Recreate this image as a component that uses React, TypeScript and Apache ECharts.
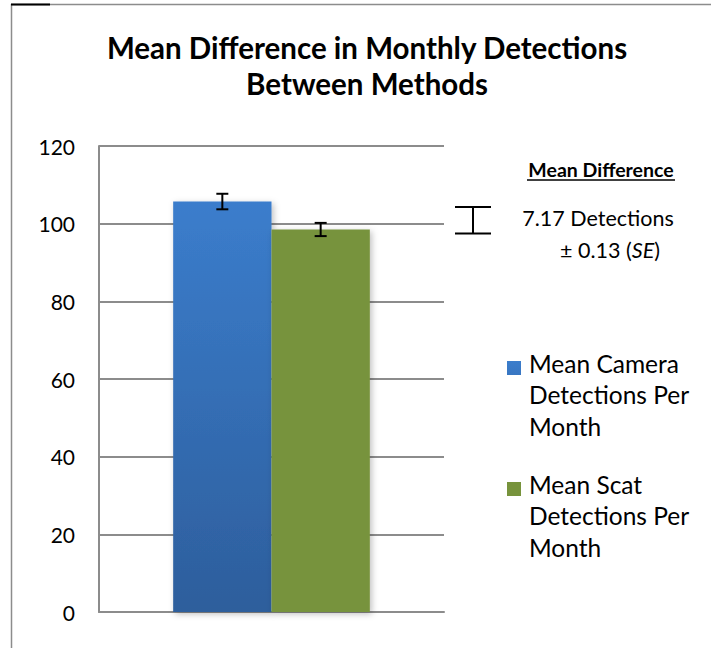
import React, { useEffect, useRef } from "react";
import * as echarts from "echarts";

const categories = ["Monthly Detections"];
const seriesNames = ["Mean Camera\nDetections Per\nMonth", "Mean Scat\nDetections Per\nMonth"];
const meanValues = [105.7, 98.5];
const seValues = [2.0, 1.7];
const yTicks = { min: 0, max: 120, interval: 20 };
const annotationTitle = "Mean Difference";
const annotationLine1 = "7.17 Detections";
const annotationSE = "0.13";
const titleText = "Mean Difference in Monthly Detections\nBetween Methods";

const FONT = "Lato, 'Open Sans', sans-serif";
const GAP = 0.43;
const LEG_LH = 31.5;
const LEG_TEXT_SHIFT = -5;
const LEG_ITEM_H = 2 * (7 + LEG_TEXT_SHIFT + LEG_LH);
const LEG_ICON_CENTER = 368;
const LEG_ICON_STEP = 121;
const LEG_ICON = `path://M0,0H14V14H0Z M16.95,${LEG_ITEM_H - 0.05}L17,${LEG_ITEM_H}L16.95,${LEG_ITEM_H}Z`;
const LEG_RECT_TOP = LEG_ITEM_H / 2 - 1.5 * LEG_LH;

export default function App() {
  const ref = useRef<HTMLDivElement>(null);
  useEffect(() => {
    if (!ref.current) return;
    const chart = echarts.init(ref.current, null, { renderer: "svg" });
    const blue = new echarts.graphic.LinearGradient(0, 0, 0, 1, [
      { offset: 0, color: "#3b7dcc" },
      { offset: 1, color: "#2d5e9c" },
    ]);
    const colors = [blue, "#77933c"];
    const barSeries = seriesNames.map((name, i) => ({
      type: "bar",
      name,
      data: [meanValues[i]],
      barGap: "0%",
      barCategoryGap: GAP * 100 + "%",
      itemStyle: {
        color: colors[i],
        shadowBlur: 6,
        shadowColor: "rgba(0,0,0,0.25)",
        shadowOffsetX: 2,
        shadowOffsetY: 2,
      },
    }));
    const errData = meanValues.map((v, i) => [0, v, seValues[i], i]);
    const option: any = {
      animation: false,
      backgroundColor: "#ffffff",
      textStyle: { fontFamily: FONT },
      title: {
        text: titleText,
        left: 367,
        top: 29,
        textAlign: "center",
        padding: 0,
        textStyle: {
          fontFamily: FONT,
          fontWeight: "bold",
          fontSize: 29.5,
          lineHeight: 36,
          color: "#000",
        },
      },
      grid: { left: 99, right: 267, top: 146, bottom: 36 },
      xAxis: {
        type: "category",
        data: categories,
        axisLine: { show: true, lineStyle: { color: "#8c8c8c", width: 2 } },
        axisTick: { show: false },
        axisLabel: { show: false },
      },
      yAxis: {
        type: "value",
        min: yTicks.min,
        max: yTicks.max,
        interval: yTicks.interval,
        axisLine: { show: true, lineStyle: { color: "#8c8c8c", width: 2 } },
        axisTick: { show: false },
        splitLine: { show: true, lineStyle: { color: "#8c8c8c", width: 2 } },
        axisLabel: { color: "#000", fontSize: 21, margin: 24, fontFamily: FONT },
      },
      legend: {
        data: seriesNames,
        orient: "vertical",
        left: 507,
        top: LEG_ICON_CENTER - 7 + LEG_RECT_TOP,
        padding: 0,
        itemGap: LEG_ICON_STEP - LEG_LH * 3,
        itemWidth: 17,
        itemHeight: LEG_ITEM_H,
        icon: LEG_ICON,
        selectedMode: false,
        textStyle: {
          fontFamily: FONT,
          fontSize: 24.5,
          lineHeight: LEG_LH,
          color: "#000",
        },
      },
      series: [
        ...barSeries,
        {
          type: "custom",
          name: "SE",
          data: errData,
          encode: { x: 0, y: 1 },
          z: 10,
          renderItem: (params: any, api: any) => {
            const cat = api.value(0);
            const v = api.value(1);
            const e = api.value(2);
            const slot = api.value(3);
            const band = api.size([1, 0])[0];
            const barW = (band * (1 - GAP)) / 2;
            const c = api.coord([cat, v]);
            const x = c[0] + (slot - 0.5) * barW;
            const yTop = api.coord([cat, v + e])[1];
            const yBot = api.coord([cat, v - e])[1];
            const hw = 6;
            const style = { stroke: "#000", lineWidth: 2 };
            return {
              type: "group",
              children: [
                { type: "line", shape: { x1: x, y1: yTop, x2: x, y2: yBot }, style },
                { type: "line", shape: { x1: x - hw, y1: yTop, x2: x + hw, y2: yTop }, style },
                { type: "line", shape: { x1: x - hw, y1: yBot, x2: x + hw, y2: yBot }, style },
              ],
            };
          },
        },
      ],
      graphic: [
        { type: "line", shape: { x1: 11.5, y1: 4, x2: 11.5, y2: 648 }, style: { stroke: "#8c8c8c", lineWidth: 1.5 } },
        { type: "line", shape: { x1: 11, y1: 4.5, x2: 711, y2: 4.5 }, style: { stroke: "#8c8c8c", lineWidth: 1.5 } },
        { type: "line", shape: { x1: 11, y1: 4.5, x2: 50, y2: 4.5 }, style: { stroke: "#000", lineWidth: 2 } },
        {
          type: "text",
          x: 601,
          y: 169,
          style: {
            text: annotationTitle,
            fontFamily: FONT,
            fontWeight: "bold",
            fontSize: 19.5,
            fill: "#000",
            align: "center",
            verticalAlign: "middle",
          },
        },
        { type: "line", shape: { x1: 527, y1: 180, x2: 675, y2: 180 }, style: { stroke: "#000", lineWidth: 1.5 } },
        { type: "line", shape: { x1: 455, y1: 207, x2: 491, y2: 207 }, style: { stroke: "#000", lineWidth: 2 } },
        { type: "line", shape: { x1: 455, y1: 233.5, x2: 491, y2: 233.5 }, style: { stroke: "#000", lineWidth: 2 } },
        { type: "line", shape: { x1: 473, y1: 207, x2: 473, y2: 233.5 }, style: { stroke: "#000", lineWidth: 2 } },
        {
          type: "text",
          x: 598,
          y: 218,
          style: {
            text: annotationLine1,
            fontFamily: FONT,
            fontSize: 21.5,
            fill: "#000",
            align: "center",
            verticalAlign: "middle",
          },
        },
        {
          type: "text",
          x: 610,
          y: 250,
          style: {
            text: "± " + annotationSE + " ({i|SE})",
            fontFamily: FONT,
            fontSize: 21.5,
            fill: "#000",
            align: "center",
            verticalAlign: "middle",
            rich: { i: { fontStyle: "italic", fontFamily: FONT, fontSize: 21.5, fill: "#000" } },
          },
        },
      ],
    };
    chart.setOption(option);
    return () => chart.dispose();
  }, []);
  return (
    <div
      ref={ref}
      style={{ position: "fixed", left: 0, top: 0, width: 711, height: 648, background: "#fff" }}
    />
  );
}
